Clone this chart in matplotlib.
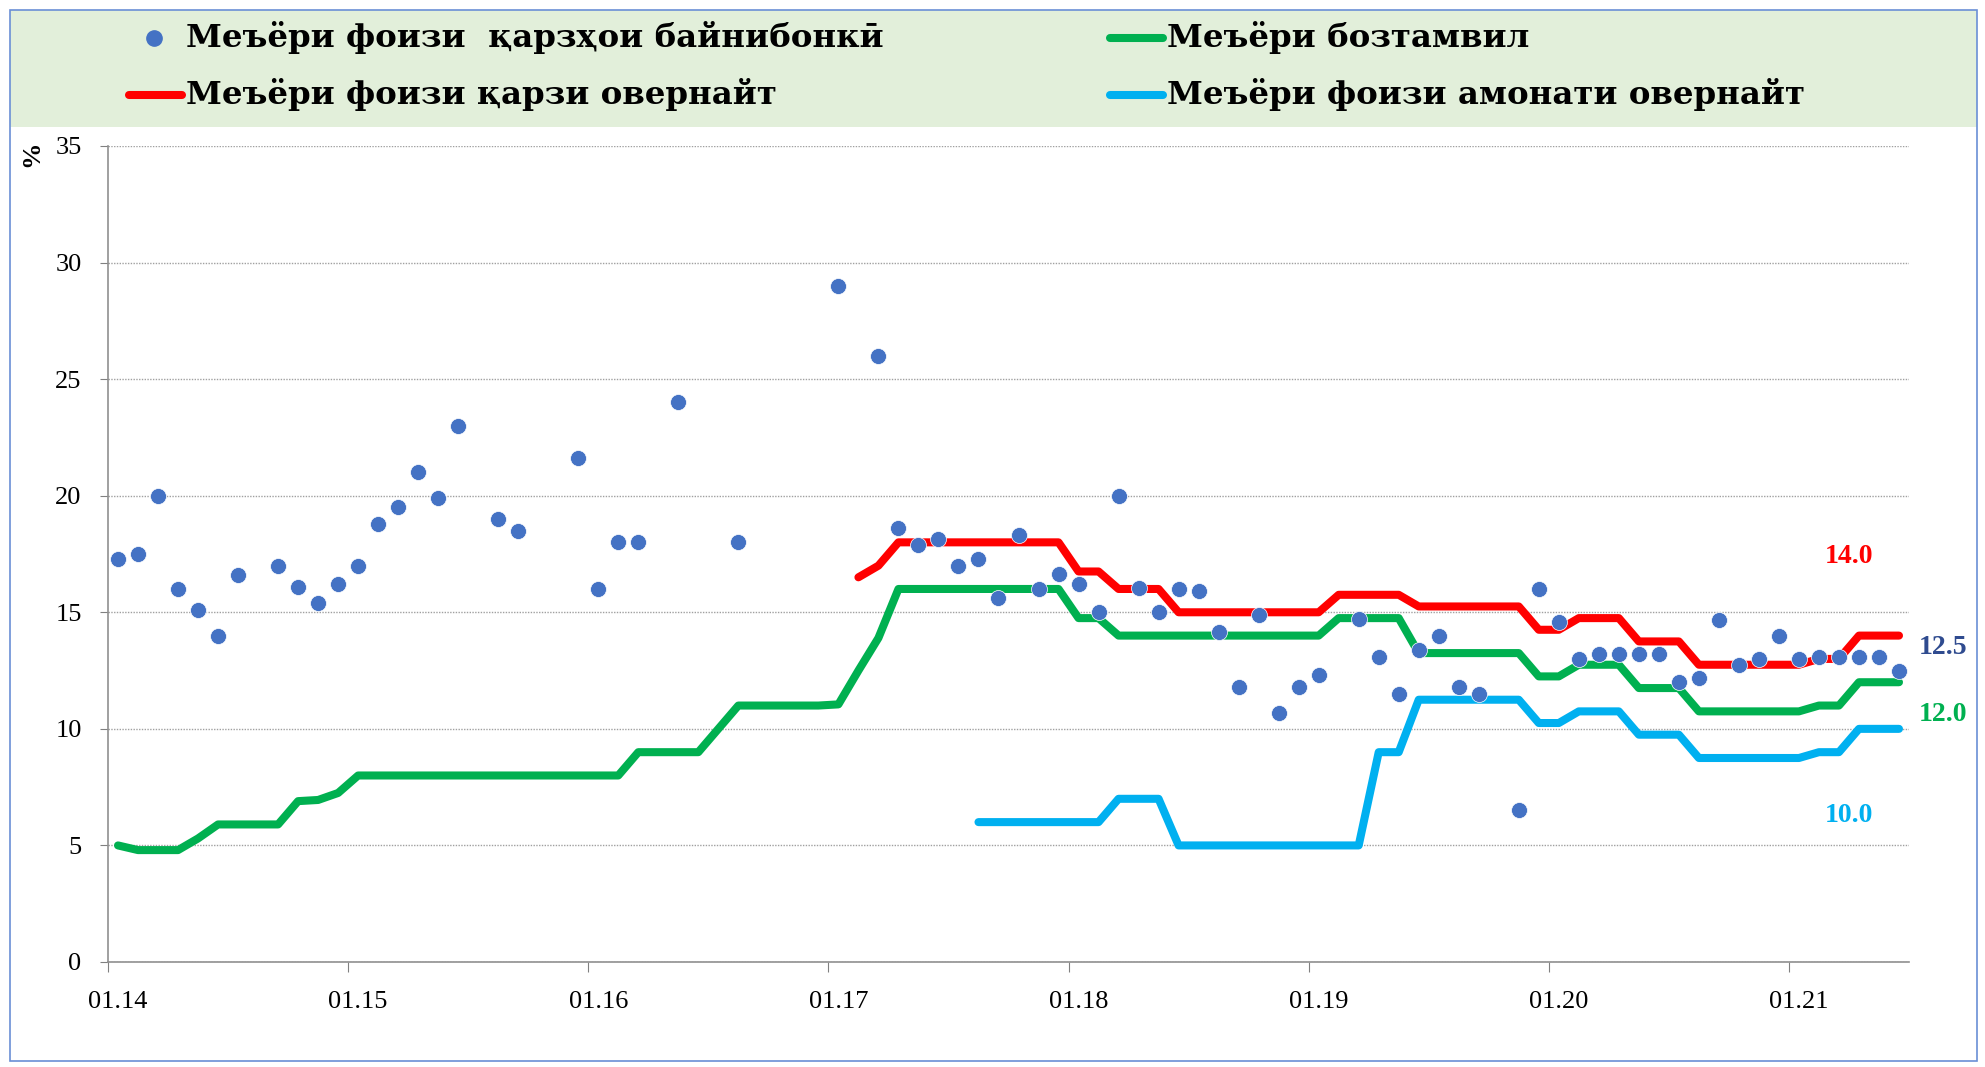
import numpy as np
import matplotlib
matplotlib.use("Agg")
import matplotlib.pyplot as plt
from matplotlib.lines import Line2D
from matplotlib.patches import Rectangle

nan = np.nan

# ---- data (monthly, 01.2014 .. 06.2021) ----
tick_labels = ["01.14", "01.15", "01.16", "01.17", "01.18", "01.19", "01.20", "01.21"]

interbank = [17.3, 17.5, 20.0, 16.0, 15.1, 14.0, 16.6, nan, 17.0, 16.1, 15.4, 16.2,
             17.0, 18.8, 19.5, 21.0, 19.9, 23.0, nan, 19.0, 18.5, nan, nan, 21.6,
             16.0, 18.0, 18.0, nan, 24.0, nan, nan, 18.0, nan, nan, nan, nan,
             29.0, nan, 26.0, 18.6, 17.9, 18.15, 17.0, 17.3, 15.6, 18.3, 16.0, 16.65,
             16.2, 15.0, 20.0, 16.05, 15.0, 16.0, 15.9, 14.15, 11.8, 14.9, 10.7, 11.8,
             12.3, nan, 14.7, 13.1, 11.5, 13.4, 14.0, 11.8, 11.5, nan, 6.5, 16.0,
             14.6, 13.0, 13.2, 13.2, 13.2, 13.2, 12.0, 12.2, 14.65, 12.75, 13.0, 14.0,
             13.0, 13.1, 13.1, 13.1, 13.1, 12.5]

refinancing = [5.0, 4.8, 4.8, 4.8, 5.3, 5.9, 5.9, 5.9, 5.9, 6.9, 6.95, 7.25,
               8.0, 8.0, 8.0, 8.0, 8.0, 8.0, 8.0, 8.0, 8.0, 8.0, 8.0, 8.0,
               8.0, 8.0, 9.0, 9.0, 9.0, 9.0, 10.0, 11.0, 11.0, 11.0, 11.0, 11.0,
               11.05, 12.5, 13.9, 16.0, 16.0, 16.0, 16.0, 16.0, 16.0, 16.0, 16.0, 16.0,
               14.75, 14.75, 14.0, 14.0, 14.0, 14.0, 14.0, 14.0, 14.0, 14.0, 14.0, 14.0,
               14.0, 14.75, 14.75, 14.75, 14.75, 13.25, 13.25, 13.25, 13.25, 13.25, 13.25, 12.25,
               12.25, 12.75, 12.75, 12.75, 11.75, 11.75, 11.75, 10.75, 10.75, 10.75, 10.75, 10.75,
               10.75, 11.0, 11.0, 12.0, 12.0, 12.0]

overnight_loan = [nan, nan, nan, nan, nan, nan, nan, nan, nan, nan, nan, nan,
                  nan, nan, nan, nan, nan, nan, nan, nan, nan, nan, nan, nan,
                  nan, nan, nan, nan, nan, nan, nan, nan, nan, nan, nan, nan,
                  nan, 16.5, 17.0, 18.0, 18.0, 18.0, 18.0, 18.0, 18.0, 18.0, 18.0, 18.0,
                  16.75, 16.75, 16.0, 16.0, 16.0, 15.0, 15.0, 15.0, 15.0, 15.0, 15.0, 15.0,
                  15.0, 15.75, 15.75, 15.75, 15.75, 15.25, 15.25, 15.25, 15.25, 15.25, 15.25, 14.25,
                  14.25, 14.75, 14.75, 14.75, 13.75, 13.75, 13.75, 12.75, 12.75, 12.75, 12.75, 12.75,
                  12.75, 13.0, 13.0, 14.0, 14.0, 14.0]

overnight_dep = [nan, nan, nan, nan, nan, nan, nan, nan, nan, nan, nan, nan,
                 nan, nan, nan, nan, nan, nan, nan, nan, nan, nan, nan, nan,
                 nan, nan, nan, nan, nan, nan, nan, nan, nan, nan, nan, nan,
                 nan, nan, nan, nan, nan, nan, nan, 6.0, 6.0, 6.0, 6.0, 6.0,
                 6.0, 6.0, 7.0, 7.0, 7.0, 5.0, 5.0, 5.0, 5.0, 5.0, 5.0, 5.0,
                 5.0, 5.0, 5.0, 9.0, 9.0, 11.25, 11.25, 11.25, 11.25, 11.25, 11.25, 10.25,
                 10.25, 10.75, 10.75, 10.75, 9.75, 9.75, 9.75, 8.75, 8.75, 8.75, 8.75, 8.75,
                 8.75, 9.0, 9.0, 10.0, 10.0, 10.0]

legend_labels = ["Меъёри фоизи  қарзҳои байнибонкӣ", "Меъёри бозтамвил",
                 "Меъёри фоизи қарзи овернайт", "Меъёри фоизи амонати овернайт"]

# ---- style ----
C_DOT = "#4472C4"
C_GREEN = "#00B050"
C_RED = "#FF0000"
C_CYAN = "#00B0F0"
C_DARK = "#2F4B8F"
SERIF = ["Liberation Serif", "DejaVu Serif"]
LEGSERIF = ["DejaVu Serif", "Liberation Serif"]

W, H = 1985, 1067
fig = plt.figure(figsize=(W / 100, H / 100), dpi=100)

def fx(px):
    return px / W

def fy(py):
    return 1 - py / H

# legend band + outer border
fig.patches.append(Rectangle((fx(10), fy(127)), fx(1977) - fx(10), fy(10) - fy(127),
                             transform=fig.transFigure, facecolor="#E2EFDA",
                             edgecolor="none", zorder=0))
fig.patches.append(Rectangle((fx(10), fy(1061)), fx(1977) - fx(10), fy(10) - fy(1061),
                             transform=fig.transFigure, facecolor="none",
                             edgecolor="#6A8FD6", linewidth=1.2, zorder=5))

ax = fig.add_axes([fx(108), fy(962), fx(1909) - fx(108), fy(146) - fy(962)])
x = np.arange(len(refinancing))

line_kw = dict(lw=5.8, solid_capstyle="round", solid_joinstyle="round", zorder=2)
ax.plot(x, refinancing, color=C_GREEN, **line_kw)
ax.plot(x, overnight_loan, color=C_RED, **line_kw)
ax.plot(x, overnight_dep, color=C_CYAN, **line_kw)
ax.plot(x, interbank, linestyle="none", marker="o", markersize=11.5,
        color=C_DOT, markeredgecolor="white", markeredgewidth=0.5, zorder=3)

ax.set_xlim(-0.5, len(refinancing) - 0.5)
ax.set_ylim(0, 35)
ax.set_yticks(np.arange(0, 36, 5))
ax.grid(axis="y", color="#A0A0A0", linestyle=(0, (1, 1)), linewidth=1.0)
ax.set_axisbelow(True)

# category axis: ticks between categories, labels centred on first month of year
major = np.arange(-0.5, len(refinancing), 12)
ax.set_xticks(major)
ax.set_xticklabels([""] * len(major))
label_pos = np.arange(0, len(refinancing), 12)
ax.set_xticks(label_pos, minor=True)
ax.set_xticklabels(tick_labels, minor=True)
ax.tick_params(axis="x", which="minor", length=0, pad=21)
ax.tick_params(axis="x", which="major", length=7.5, color="#808080", direction="out")
ax.tick_params(axis="y", length=6, color="#808080", direction="out", pad=13)
for lab in ax.get_xticklabels(minor=True) + ax.get_yticklabels():
    lab.set_fontfamily(SERIF)
    lab.set_fontsize(19)

for s in ["top", "right"]:
    ax.spines[s].set_visible(False)
for s in ["left", "bottom"]:
    ax.spines[s].set_color("#909090")
    ax.spines[s].set_linewidth(1.2)

fig.text(fx(32), fy(154), "%", rotation=90, fontsize=19, fontweight="bold",
         family=SERIF, ha="center", va="center")

# end-value labels
lab_kw = dict(fontsize=20, fontweight="bold", family=SERIF, ha="center",
              va="center", clip_on=False)
n = len(refinancing) - 1
ax.text(n - 2.5, overnight_loan[-1] + 3.4, f"{overnight_loan[-1]:.1f}", color=C_RED, **lab_kw)
ax.text(n + 2.2, interbank[-1] + 1.0, f"{interbank[-1]:.1f}", color=C_DARK, **lab_kw)
ax.text(n + 2.2, refinancing[-1] - 1.4, f"{refinancing[-1]:.1f}", color=C_GREEN, **lab_kw)
ax.text(n - 2.5, overnight_dep[-1] - 3.7, f"{overnight_dep[-1]:.1f}", color=C_CYAN, **lab_kw)

# manual legend
leg_kw = dict(fontsize=23.3, fontweight="bold", family=LEGSERIF, ha="left", va="center")
fig.add_artist(Line2D([fx(154)], [fy(38)], marker="o", markersize=11, color=C_DOT,
                      linestyle="none", transform=fig.transFigure))
fig.text(fx(186), fy(38), legend_labels[0], **leg_kw)
fig.add_artist(Line2D([fx(1110), fx(1163)], [fy(38), fy(38)], color=C_GREEN, lw=5.8,
                      solid_capstyle="round", transform=fig.transFigure))
fig.text(fx(1167), fy(38), legend_labels[1], **leg_kw)
fig.add_artist(Line2D([fx(129), fx(182)], [fy(95), fy(95)], color=C_RED, lw=5.8,
                      solid_capstyle="round", transform=fig.transFigure))
fig.text(fx(186), fy(95), legend_labels[2], **leg_kw)
fig.add_artist(Line2D([fx(1110), fx(1163)], [fy(95), fy(95)], color=C_CYAN, lw=5.8,
                      solid_capstyle="round", transform=fig.transFigure))
fig.text(fx(1167), fy(95), legend_labels[3], **leg_kw)

fig.savefig("out.png", dpi=100)
